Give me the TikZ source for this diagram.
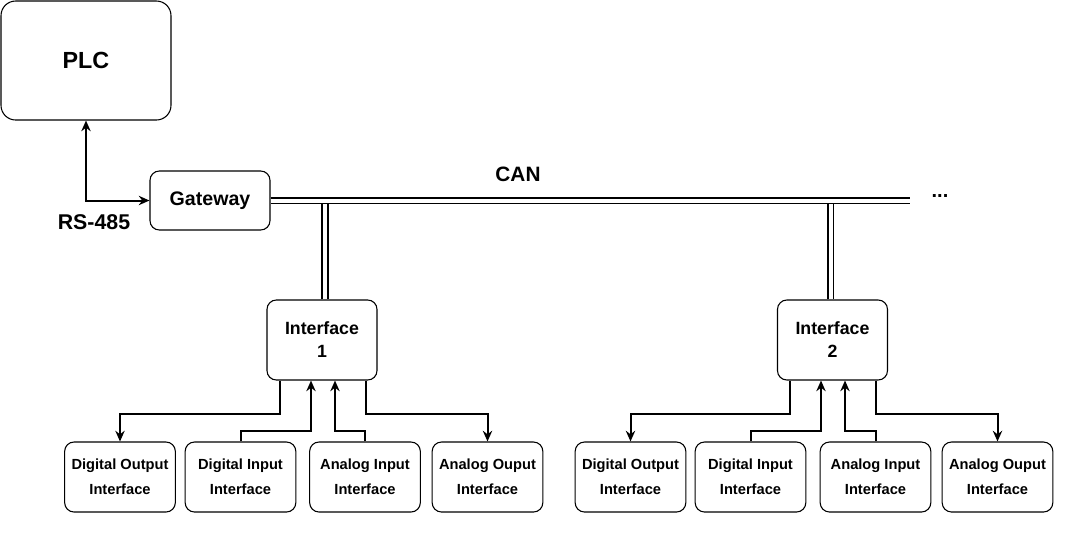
\documentclass[tikz,border=0pt]{standalone}
\usepackage{fontspec}
\setmainfont{Liberation Sans}
\usetikzlibrary{arrows.meta,calc}

\begin{document}
\begin{tikzpicture}[x=0.75pt, y=-0.75pt, font=\bfseries, >={Stealth[length=8pt,width=7pt]},
    box/.style = {draw, rounded corners=7pt, line width=0.8pt, inner sep=0pt, align=center},
    io/.style = {box, minimum width=83pt, minimum height=52.5pt, font=\bfseries\fontsize{11}{18.5}\selectfont},
    iface/.style = {box, minimum width=82.5pt, minimum height=60pt, font=\bfseries\fontsize{13.3}{17.3}\selectfont},
    link/.style = {line width=1.5pt, ->},
    bus/.style = {draw, double, double distance=3pt, line width=1.3pt}]
    \useasboundingbox (0,0) rectangle (1075,558);
    % top part
    \node[box, rounded corners=11pt, minimum width=127.5pt, minimum height=89.25pt, font=\bfseries\fontsize{17.5}{20}\selectfont] (plc) at (86,60.5) {PLC};
    \node[box, minimum width=90pt, minimum height=44.25pt, font=\bfseries\fontsize{14.7}{17}\selectfont] (gw) at (210,200.5) {Gateway};
    \node[font=\bfseries\fontsize{16}{18}\selectfont] (rs) at (94,222) {RS-485};
    \node[font=\bfseries\fontsize{15.6}{18}\selectfont] (can) at (518,174) {CAN};
    \coordinate (canend) at (910,200.5);
    \node[font=\bfseries\fontsize{15}{17}\selectfont] (more) at (940,196) {...};
    % interfaces
    \node[iface] (if1) at (322,340) {Interface\\1};
    \node[iface] (if2) at (832.5,340) {Interface\\2};
    \node[io] (do1) at (120,477) {Digital Output\\Interface};
    \node[io] (di1) at (240.5,477) {Digital Input\\Interface};
    \node[io] (ai1) at (365,477) {Analog Input\\Interface};
    \node[io] (ao1) at (487.5,477) {Analog Ouput\\Interface};
    \node[io] (do2) at (630.5,477) {Digital Output\\Interface};
    \node[io] (di2) at (750.5,477) {Digital Input\\Interface};
    \node[io] (ai2) at (875.5,477) {Analog Input\\Interface};
    \node[io] (ao2) at (997.5,477) {Analog Ouput\\Interface};
    % bus lines
    \draw[bus] ($(if1.north)+(3,0)$) -- ($(if1.north |- canend)+(3,0)$);
    \draw[bus] ($(if2.north)+(-2,0)$) -- ($(if2.north |- canend)+(-2,0)$);
    \draw[bus] (gw.east) -- (canend);
    % rs-485
    \draw[link, <->] (plc.south) |- (gw.west);
    % connections to interface 1
    \draw[link] ($(if1.south)+(-42,0)$) -- ++(0,33) -| (do1.north);
    \draw[link] (di1.north) -- ++(0,-10) -| ($(if1.south)+(-11,0)$);
    \draw[link] (ai1.north) -- ++(0,-10) -| ($(if1.south)+(13,0)$);
    \draw[link] ($(if1.south)+(44,0)$) -- ++(0,33) -| (ao1.north);
    % connections to interface 2
    \draw[link] ($(if2.south)+(-42.5,0)$) -- ++(0,33) -| (do2.north);
    \draw[link] (di2.north) -- ++(0,-10) -| ($(if2.south)+(-11.5,0)$);
    \draw[link] (ai2.north) -- ++(0,-10) -| ($(if2.south)+(12.5,0)$);
    \draw[link] ($(if2.south)+(43.5,0)$) -- ++(0,33) -| (ao2.north);
\end{tikzpicture}
\end{document}
